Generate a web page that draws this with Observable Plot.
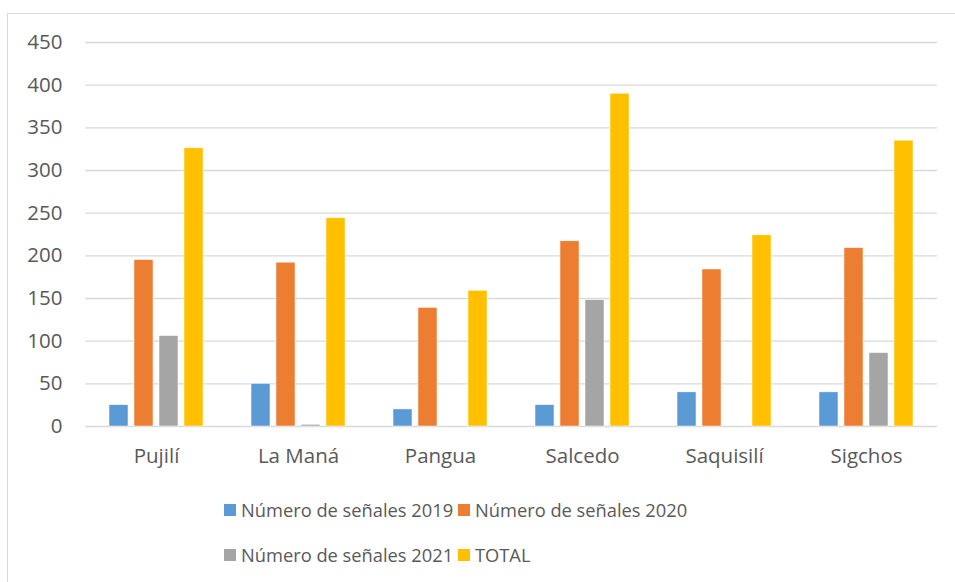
<!DOCTYPE html>
<html>
<head>
<meta charset="utf-8">
<script src="https://cdn.jsdelivr.net/npm/d3@7"></script>
<script src="https://cdn.jsdelivr.net/npm/@observablehq/plot@0.6"></script>
<style>
  body { margin: 0; background: #fff; font-family: "Open Sans", sans-serif; }
  #frame { position: absolute; left: 7px; top: 13px; width: 980px; height: 600px; border: 1px solid #D9D9D9; box-sizing: border-box; }
  #chart { position: absolute; left: 0; top: 0; }
  #legend { position: absolute; left: 224px; top: 497px; display: grid; grid-template-columns: 234px auto; row-gap: 20px; font-size: 18.3px; color: #595959; }
  .item { display: flex; align-items: center; white-space: nowrap; }
  .sw { width: 12px; height: 12px; margin-right: 5px; display: inline-block; }
</style>
</head>
<body>
<div id="frame"></div>
<div id="chart"></div>
<div id="legend"></div>
<script>
const municipios = ["Pujilí", "La Maná", "Pangua", "Salcedo", "Saquisilí", "Sigchos"];
const series = ["Número de señales 2019", "Número de señales 2020", "Número de señales 2021", "TOTAL"];
const colors = ["#5B9BD5", "#ED7D31", "#A5A5A5", "#FFC000"];
const s2019 = [25, 50, 20, 25, 40, 40];
const s2020 = [195, 192, 139, 217, 184, 209];
const s2021 = [106, 2, 0, 148, 0, 86];
const total = [326, 244, 159, 390, 224, 335];
const yTicks = [0, 50, 100, 150, 200, 250, 300, 350, 400, 450];

const cols = [s2019, s2020, s2021, total];
const data = [];
municipios.forEach((m, i) => {
  series.forEach((s, j) => {
    data.push({ muni: m, series: s, value: cols[j][i] });
  });
});

const chart = Plot.plot({
  width: 955,
  height: 480,
  marginLeft: 84,
  marginRight: 17,
  marginTop: 42,
  marginBottom: 54,
  style: { fontFamily: "'Open Sans', sans-serif", fontSize: "20.5px", color: "#595959", background: "transparent" },
  fx: { domain: municipios, padding: 0, label: null, tickSize: 0, tickPadding: 22 },
  x: { domain: series, paddingInner: 0.23, paddingOuter: 0.85, axis: null },
  y: { domain: [0, 450], ticks: yTicks, tickSize: 0, tickPadding: 23, label: null },
  color: { domain: series, range: colors },
  marks: [
    Plot.ruleY(yTicks, { stroke: "#D9D9D9", strokeWidth: 1.3 }),
    Plot.barY(data, { fx: "muni", x: "series", y: "value", fill: "series", stroke: "#fff", strokeWidth: 0.5 })
  ]
});
document.getElementById("chart").appendChild(chart);

const legend = document.getElementById("legend");
series.forEach((s, j) => {
  const it = document.createElement("div");
  it.className = "item";
  const sw = document.createElement("span");
  sw.className = "sw";
  sw.style.background = colors[j];
  it.appendChild(sw);
  it.appendChild(document.createTextNode(s));
  legend.appendChild(it);
});
</script>
</body>
</html>
